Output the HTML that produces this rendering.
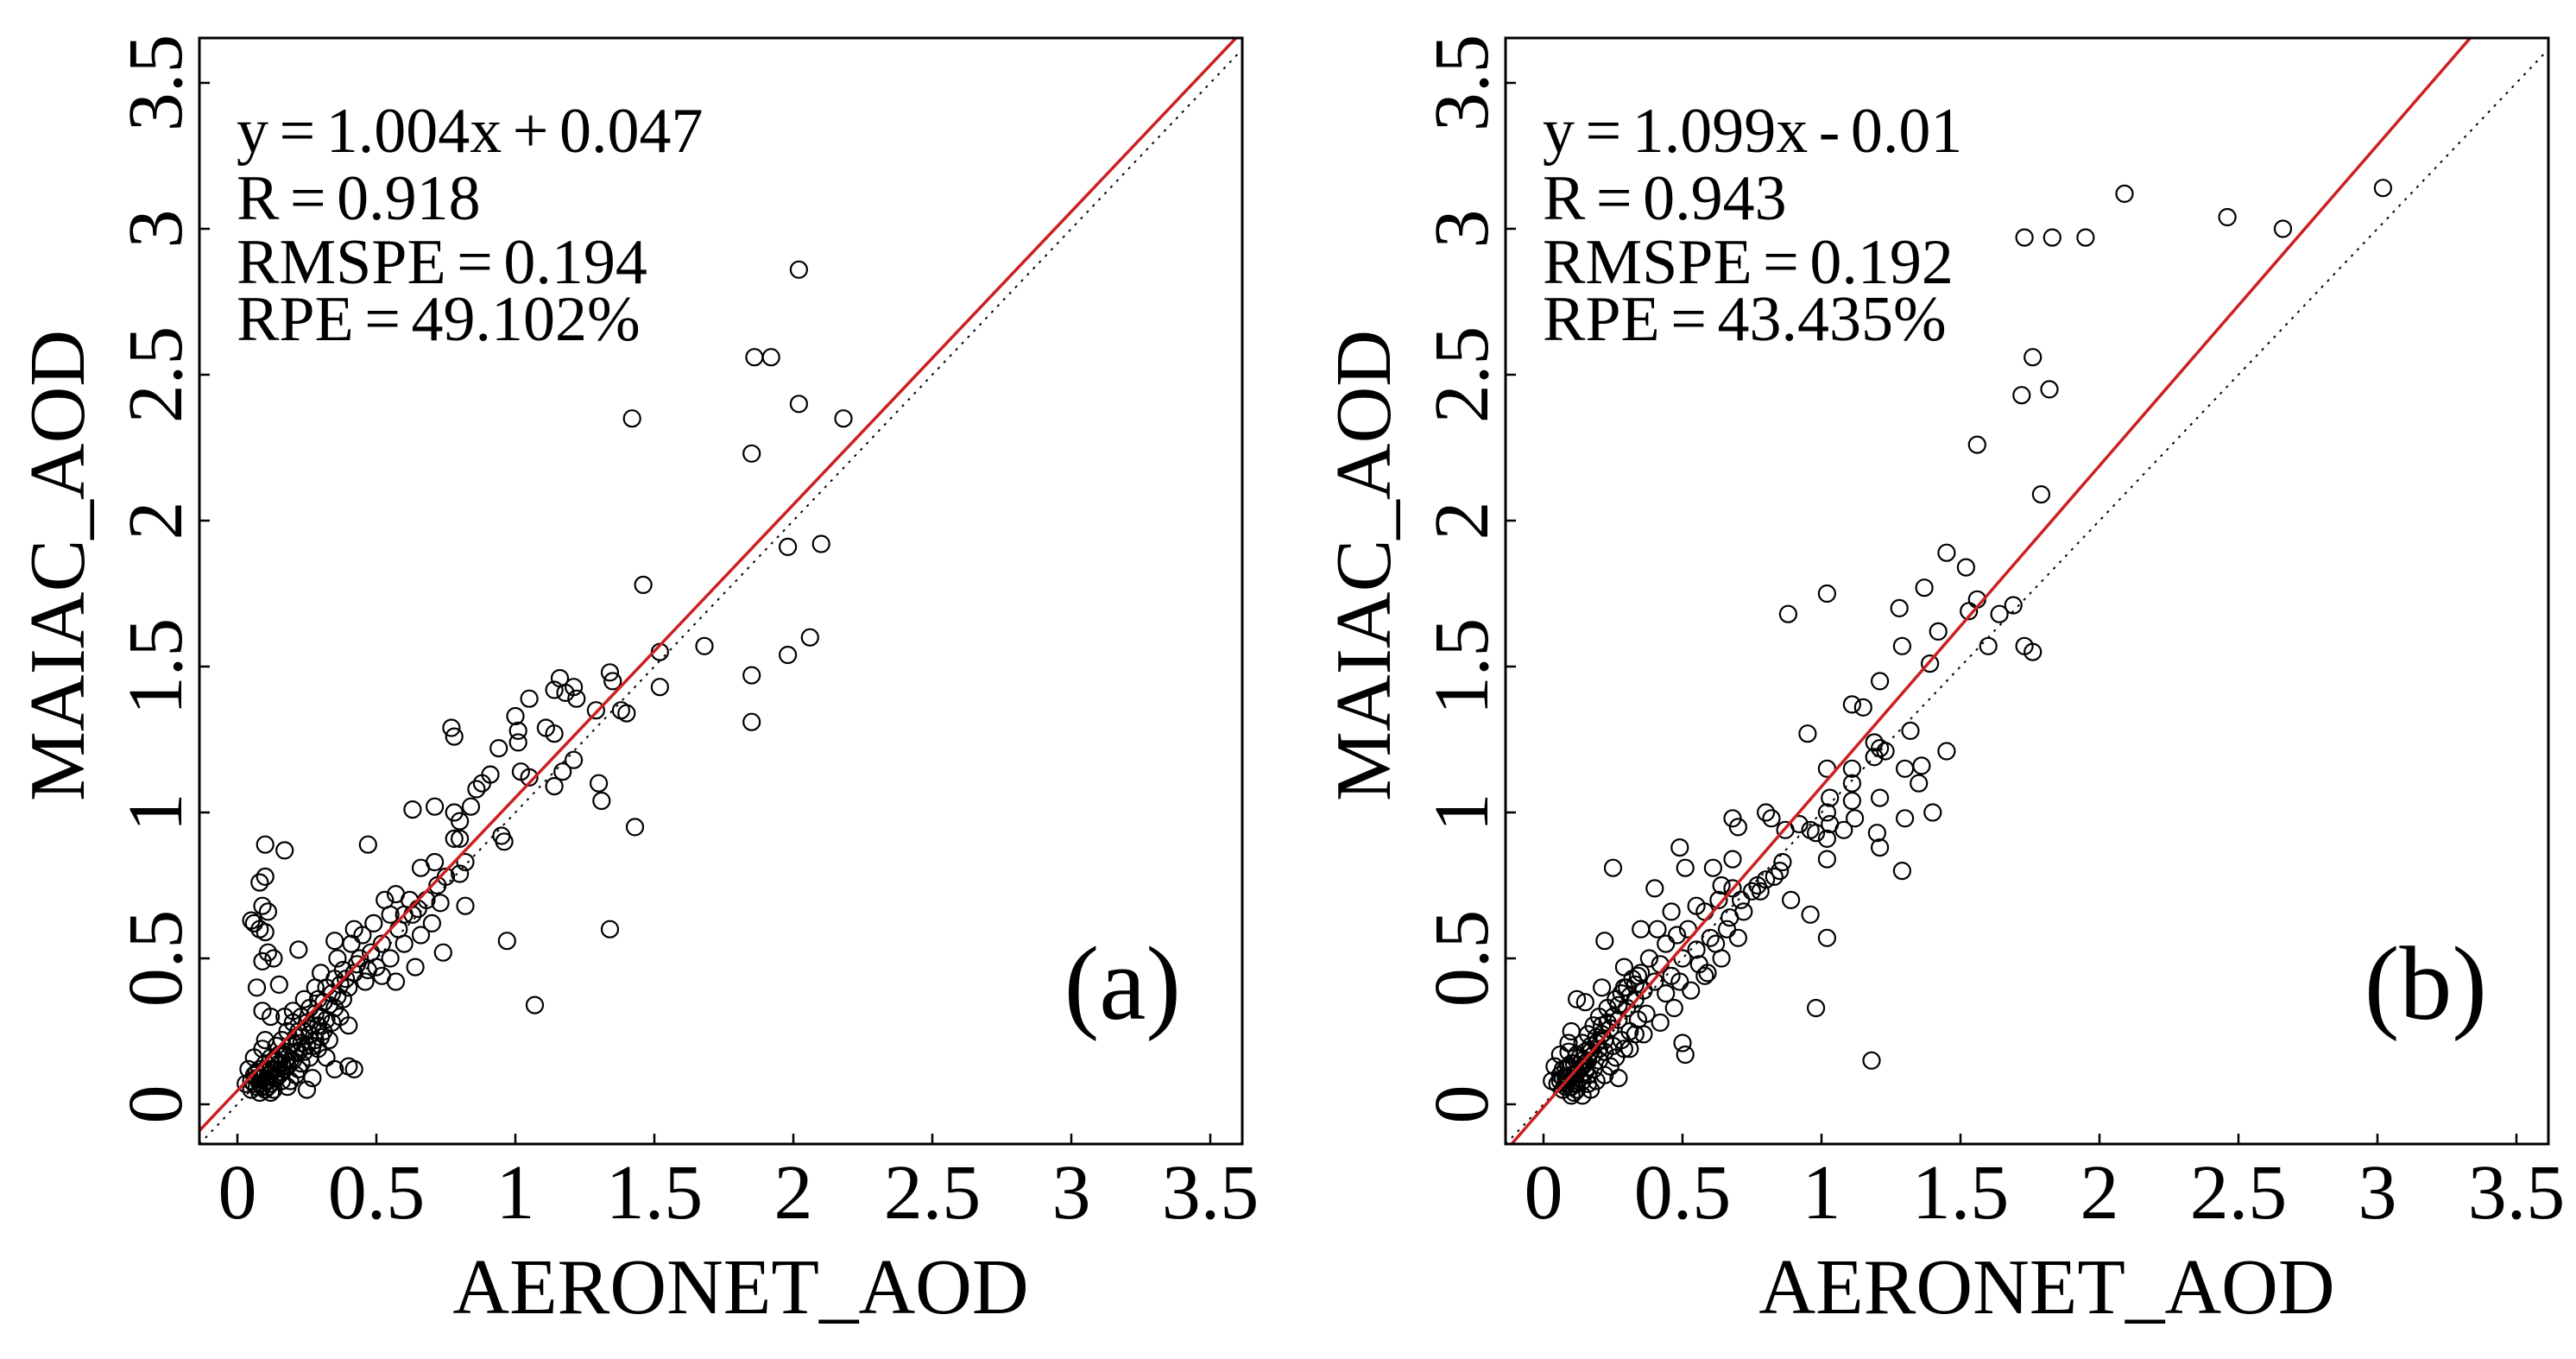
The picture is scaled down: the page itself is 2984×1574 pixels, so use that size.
<!DOCTYPE html>
<html><head><meta charset="utf-8">
<style>
html,body{margin:0;padding:0;background:#fff;}
svg{display:block;}
text{font-family:"Liberation Serif",serif;fill:#000;}
</style></head>
<body>
<svg id="fig" width="2984" height="1574" viewBox="0 0 2984 1574" xmlns="http://www.w3.org/2000/svg"></svg>
<script>
const ticks = [0, 0.5, 1, 1.5, 2, 2.5, 3, 3.5];
const tickLabels = ["0", "0.5", "1", "1.5", "2", "2.5", "3", "3.5"];
const statsA = ["y = 1.004x + 0.047", "R = 0.918", "RMSPE = 0.194", "RPE = 49.102%"];
const statsB = ["y = 1.099x - 0.01", "R = 0.943", "RMSPE = 0.192", "RPE = 43.435%"];
const fitA = [1.004, 0.047];
const fitB = [1.099, -0.01];
const pointsA = [
[2.02,2.86],[1.86,2.56],[1.92,2.56],[1.42,2.35],[2.18,2.35],[2.02,2.40],[1.85,2.23],[1.98,1.91],[2.10,1.92],[1.46,1.78],
[1.68,1.57],[1.52,1.55],[2.06,1.60],[1.98,1.54],[1.85,1.47],[1.52,1.43],[1.85,1.31],[1.34,1.48],[1.35,1.45],[1.38,1.35],
[1.40,1.34],[1.29,1.35],[1.16,1.46],[1.14,1.42],[1.18,1.41],[1.21,1.43],[1.22,1.39],[1.05,1.39],[1.00,1.33],[1.01,1.28],
[1.01,1.24],[1.11,1.29],[1.14,1.27],[0.77,1.29],[0.78,1.26],[0.94,1.22],[1.21,1.18],[1.17,1.14],[1.02,1.14],[1.05,1.12],
[1.14,1.09],[1.30,1.10],[1.31,1.04],[0.91,1.13],[0.88,1.10],[0.86,1.08],[0.84,1.02],[0.71,1.02],[0.63,1.01],[0.78,1.00],
[0.80,0.97],[1.43,0.95],[0.95,0.92],[0.96,0.90],[0.78,0.91],[0.80,0.91],[0.47,0.89],[0.10,0.89],[0.17,0.87],[0.82,0.83],
[0.71,0.83],[0.66,0.81],[0.10,0.78],[0.08,0.76],[0.80,0.79],[0.72,0.75],[0.73,0.69],[0.82,0.68],[0.06,0.62],[0.08,0.60],
[0.09,0.68],[0.11,0.66],[0.10,0.59],[0.57,0.72],[0.53,0.70],[0.62,0.70],[0.65,0.67],[0.60,0.65],[0.49,0.62],[0.42,0.60],
[0.97,0.56],[1.34,0.60],[1.07,0.34],[0.35,0.56],[0.22,0.53],[0.13,0.50],[0.09,0.49],
[0.05,0.08],[0.06,0.10],[0.07,0.06],[0.08,0.12],[0.08,0.07],[0.09,0.09],[0.10,0.05],[0.10,0.14],[0.11,0.10],[0.12,0.07],
[0.12,0.16],[0.13,0.12],[0.14,0.09],[0.14,0.20],[0.15,0.14],[0.16,0.11],[0.16,0.22],[0.17,0.17],[0.18,0.13],[0.18,0.25],
[0.19,0.20],[0.20,0.15],[0.20,0.28],[0.21,0.23],[0.22,0.18],[0.23,0.30],[0.24,0.25],[0.25,0.20],[0.26,0.33],[0.27,0.27],
[0.28,0.22],[0.29,0.36],[0.30,0.30],[0.31,0.25],[0.32,0.40],[0.33,0.34],[0.34,0.28],[0.35,0.43],[0.36,0.37],[0.37,0.30],
[0.38,0.46],[0.40,0.40],[0.42,0.45],[0.44,0.50],[0.46,0.42],[0.48,0.52],[0.50,0.47],[0.52,0.55],[0.55,0.50],[0.58,0.60],
[0.60,0.55],[0.63,0.65],[0.66,0.58],[0.68,0.70],[0.70,0.62],[0.75,0.78],[0.12,0.30],[0.10,0.22],[0.09,0.32],[0.07,0.40],
[0.15,0.41],[0.17,0.30],[0.05,0.63],[0.11,0.52],[0.25,0.05],[0.27,0.09],[0.35,0.12],[0.40,0.13],[0.42,0.12],[0.40,0.27],
[0.32,0.16],[0.22,0.12],[0.18,0.06],[0.30,0.45],[0.28,0.40],[0.24,0.36],[0.20,0.32],[0.36,0.50],[0.45,0.58],[0.41,0.55],
[0.55,0.65],[0.57,0.42],[0.64,0.47],[0.74,0.52],[0.52,0.44],[0.03,0.07],[0.04,0.12],[0.06,0.16],[0.09,0.19],[0.13,0.05],
[0.19,0.08],[0.21,0.10],[0.23,0.14],[0.07,0.09],[0.11,0.06],[0.14,0.15],[0.16,0.08],[0.26,0.16],[0.29,0.19],[0.33,0.22],
[0.06,0.07],[0.07,0.11],[0.08,0.09],[0.09,0.06],[0.10,0.11],[0.11,0.08],[0.12,0.12],[0.13,0.09],[0.14,0.12],[0.15,0.10],
[0.15,0.17],[0.16,0.14],[0.17,0.12],[0.18,0.18],[0.19,0.15],[0.20,0.21],[0.21,0.18],[0.22,0.25],[0.23,0.21],[0.24,0.18],
[0.25,0.28],[0.26,0.24],[0.27,0.20],[0.28,0.31],[0.29,0.27],[0.30,0.23],[0.31,0.35],[0.32,0.29],[0.34,0.38],[0.35,0.33],
[0.37,0.41],[0.38,0.36],[0.39,0.43],[0.43,0.48],[0.47,0.46],[0.12,0.04],[0.08,0.04],[0.05,0.05],[0.10,0.08],[0.13,0.15]
];
const pointsB = [
[3.02,3.14],[2.09,3.12],[2.46,3.04],[2.66,3.00],[1.73,2.97],[1.83,2.97],[1.95,2.97],[1.76,2.56],[1.82,2.45],[1.72,2.43],
[1.56,2.26],[1.79,2.09],[1.45,1.89],[1.52,1.84],[1.02,1.75],[0.88,1.68],[1.37,1.77],[1.28,1.70],[1.56,1.73],[1.53,1.69],
[1.64,1.68],[1.69,1.71],[1.42,1.62],[1.29,1.57],[1.60,1.57],[1.73,1.57],[1.76,1.55],[1.39,1.51],[1.21,1.45],[1.11,1.37],
[1.15,1.36],[0.95,1.27],[1.32,1.28],[1.19,1.24],[1.21,1.22],[1.23,1.21],[1.19,1.19],[1.45,1.21],[1.02,1.15],[1.11,1.15],
[1.30,1.15],[1.36,1.16],[1.35,1.10],[1.11,1.10],[1.03,1.05],[1.11,1.04],[1.21,1.05],[1.02,1.00],[1.40,1.00],[1.30,0.98],
[1.12,0.98],[0.68,0.98],[0.80,1.00],[0.82,0.98],[1.03,0.96],[0.70,0.95],[0.92,0.96],[0.96,0.94],[1.08,0.94],[1.20,0.93],
[1.21,0.88],[1.02,0.91],[0.98,0.93],[0.87,0.94],[0.49,0.88],[0.25,0.81],[0.51,0.81],[0.61,0.81],[0.68,0.84],[0.86,0.83],
[1.02,0.84],[1.29,0.80],[0.77,0.75],[0.75,0.73],[0.80,0.77],[0.83,0.78],[0.40,0.74],[0.64,0.75],[0.89,0.70],[0.96,0.65],
[1.02,0.57],[0.98,0.33],[1.18,0.15],[0.51,0.17],[0.50,0.21],[0.22,0.56],[0.70,0.57],[0.58,0.44],
[0.05,0.07],[0.06,0.10],[0.07,0.05],[0.08,0.12],[0.08,0.06],[0.09,0.09],[0.10,0.03],[0.10,0.14],[0.11,0.10],[0.12,0.07],
[0.12,0.17],[0.13,0.12],[0.14,0.08],[0.14,0.21],[0.15,0.14],[0.16,0.10],[0.16,0.24],[0.17,0.18],[0.18,0.12],[0.18,0.27],
[0.19,0.21],[0.20,0.15],[0.20,0.30],[0.21,0.24],[0.22,0.18],[0.23,0.33],[0.24,0.26],[0.25,0.20],[0.26,0.36],[0.27,0.29],
[0.28,0.22],[0.29,0.40],[0.30,0.33],[0.31,0.25],[0.32,0.43],[0.33,0.36],[0.34,0.29],[0.35,0.45],[0.36,0.39],[0.37,0.31],
[0.38,0.50],[0.40,0.42],[0.42,0.48],[0.44,0.55],[0.46,0.44],[0.48,0.58],[0.50,0.50],[0.52,0.60],[0.55,0.53],[0.58,0.66],
[0.60,0.57],[0.63,0.70],[0.66,0.60],[0.68,0.74],[0.72,0.66],[0.12,0.36],[0.10,0.25],[0.09,0.18],[0.15,0.35],[0.21,0.40],
[0.29,0.47],[0.35,0.60],[0.41,0.60],[0.46,0.66],[0.55,0.68],[0.27,0.09],[0.31,0.19],[0.36,0.24],[0.42,0.28],[0.47,0.33],
[0.53,0.39],[0.59,0.45],[0.64,0.50],[0.03,0.08],[0.04,0.13],[0.06,0.17],[0.09,0.21],[0.11,0.04],[0.14,0.03],[0.17,0.05],
[0.19,0.08],[0.22,0.10],[0.24,0.13],[0.07,0.09],[0.11,0.07],[0.14,0.15],[0.16,0.07],[0.26,0.16],[0.29,0.19],[0.33,0.24],
[0.44,0.38],[0.49,0.42],[0.56,0.48],[0.62,0.55],[0.67,0.64],[0.71,0.70],[0.78,0.73],[0.85,0.80],
[0.06,0.08],[0.07,0.12],[0.08,0.09],[0.09,0.13],[0.10,0.10],[0.11,0.14],[0.12,0.11],[0.13,0.16],[0.14,0.13],[0.15,0.18],
[0.16,0.15],[0.17,0.20],[0.18,0.17],[0.19,0.23],[0.20,0.19],[0.21,0.27],[0.22,0.22],[0.23,0.28],[0.25,0.30],[0.27,0.34],
[0.28,0.38],[0.30,0.40],[0.31,0.37],[0.33,0.41],[0.34,0.44],[0.12,0.05],[0.08,0.07],[0.10,0.06],[0.13,0.09],[0.15,0.11]
];

const NS = "http://www.w3.org/2000/svg";
const svg = document.getElementById('fig');
function mk(tag, attrs, parent) {
  const e = document.createElementNS(NS, tag);
  for (const k in attrs) e.setAttribute(k, attrs[k]);
  (parent || svg).appendChild(e);
  return e;
}

function panel(ox, stats, fit, pts, tag, letter) {
  const L = ox + 231, R = ox + 1439, T = 44, B = 1325;
  const x0 = ox + 275, ux = 322, y0 = 1279, uy = 338;
  const xS = v => x0 + v * ux;
  const yS = v => y0 - v * uy;
  const xMin = (L - x0) / ux, xMax = (R - x0) / ux;
  const g = mk('g', {});
  
  
  const cid = 'clip-' + tag;
  const cp = mk('clipPath', {id: cid}, g);
  mk('rect', {x: L, y: T, width: R - L, height: B - T}, cp);
  const plot = mk('g', {'clip-path': 'url(#' + cid + ')'}, g);
  
  
  pts.forEach(p => {
    const c = mk('circle', {cx: xS(p[0]).toFixed(1), cy: yS(p[1]).toFixed(1), r: 9.5, fill: 'none', stroke: '#000', 'stroke-width': 2.2}, plot);
    
    
  });
  const one = mk('line', {x1: xS(xMin), y1: yS(xMin), x2: xS(xMax), y2: yS(xMax), stroke: '#000', 'stroke-width': 2, 'stroke-dasharray': '3 7'}, plot);
  
  
  const fl = mk('line', {x1: xS(xMin), y1: yS(fit[0] * xMin + fit[1]), x2: xS(xMax), y2: yS(fit[0] * xMax + fit[1]), stroke: '#cc2020', 'stroke-width': 3.5}, plot);
  
  
  const fr = mk('rect', {x: L, y: T, width: R - L, height: B - T, fill: 'none', stroke: '#000', 'stroke-width': 3}, g);
  
  
  ticks.forEach((t, i) => {
    const xt = mk('line', {x1: xS(t), y1: B, x2: xS(t), y2: B - 12, stroke: '#000', 'stroke-width': 2.5}, g);
    
    
    const xl = mk('text', {x: xS(t), y: 1411, 'font-size': 90, 'text-anchor': 'middle'}, g);
    xl.textContent = tickLabels[i];
    
    
    const yt = mk('line', {x1: L, y1: yS(t), x2: L + 12, y2: yS(t), stroke: '#000', 'stroke-width': 2.5}, g);
    
    
    const yl = mk('text', {x: 0, y: 0, 'font-size': 90, 'text-anchor': 'middle', transform: 'translate(' + (ox + 210) + ',' + yS(t) + ') rotate(-90)'}, g);
    yl.textContent = tickLabels[i];
    
    
  });
  const xtitle = mk('text', {x: ox + 858, y: 1521, 'font-size': 91, 'text-anchor': 'middle'}, g);
  xtitle.textContent = 'AERONET_AOD';
  
  
  const ytitle = mk('text', {x: 0, y: 0, 'font-size': 91, 'text-anchor': 'middle', transform: 'translate(' + (ox + 97) + ',655) rotate(-90)'}, g);
  ytitle.textContent = 'MAIAC_AOD';
  
  
  const base = [176, 254, 328, 394];
  stats.forEach((s, i) => {
    const st = mk('text', {x: ox + 274, y: base[i], 'font-size': 74, 'word-spacing': -6}, g);
    st.textContent = s;
    
    
  });
  const lab = mk('text', {x: ox + 1368, y: 1180, 'font-size': 122, 'text-anchor': 'end'}, g);
  lab.textContent = letter;
  
  
}
panel(0, statsA, fitA, pointsA, 'a', '(a)');
panel(1513, statsB, fitB, pointsB, 'b', '(b)');
</script>
</body></html>
